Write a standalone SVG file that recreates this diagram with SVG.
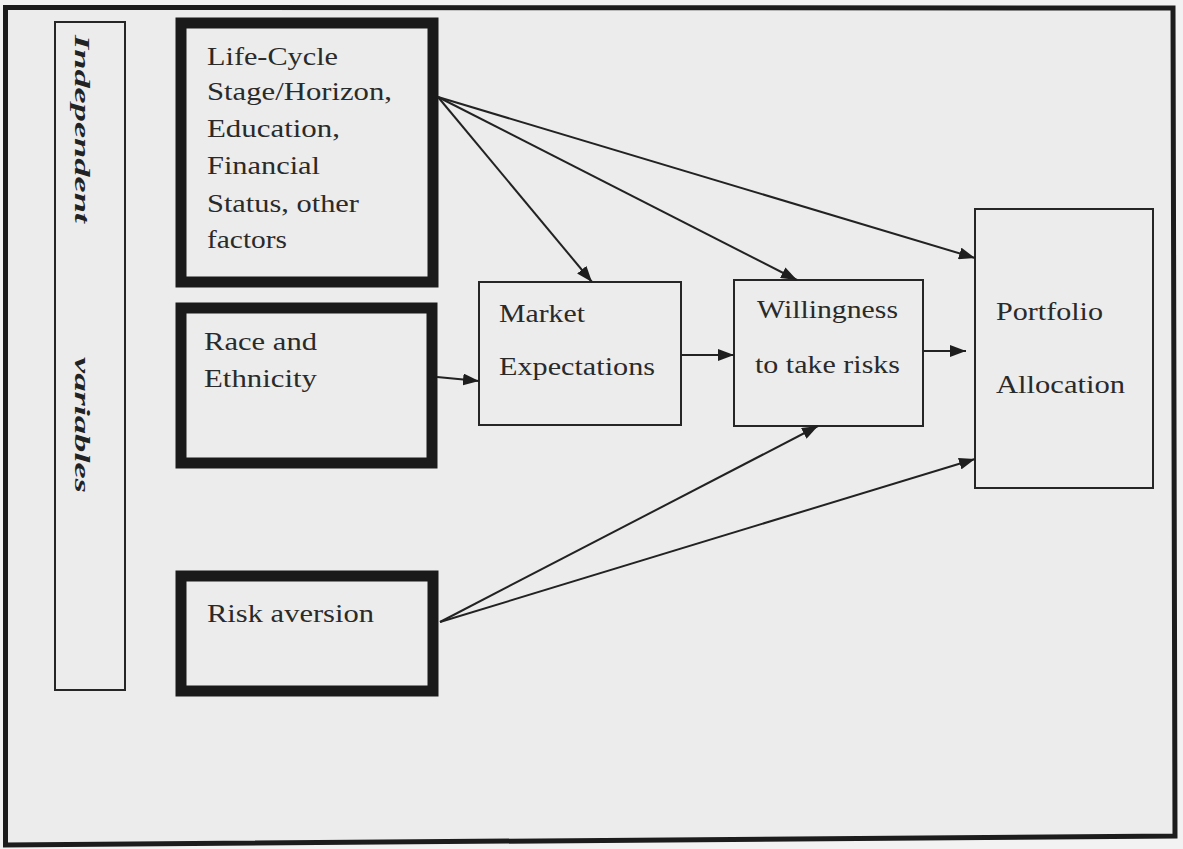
<svg xmlns="http://www.w3.org/2000/svg" width="1183" height="849" viewBox="0 0 1183 849">
<defs>
<style>
.bg{fill:#f2f2f2}
.frame{fill:#ececec;stroke:#1c1c1c;stroke-width:5}
.thick{fill:none;stroke:#1a1a1a;stroke-width:11}
.thin{fill:none;stroke:#262626;stroke-width:2}
.conn{stroke:#222;stroke-width:2;fill:none;marker-end:url(#arr)}
.t{font-family:"Liberation Serif","Times New Roman",serif;font-size:25px;fill:#2a2a2a}
.v{font-family:"Liberation Serif","Times New Roman",serif;font-size:22px;font-weight:bold;font-style:italic;fill:#222}
</style>
<marker id="arr" markerUnits="userSpaceOnUse" markerWidth="16" markerHeight="12" refX="16" refY="6" orient="auto">
<path d="M0,0 L16,6 L0,12 Z" fill="#1e1e1e"/>
</marker>
</defs>
<rect class="bg" x="0" y="0" width="1183" height="849"/>
<path class="frame" d="M5.5,7.5 L1173,8 L1175,836 L5.5,845 Z"/>

<g id="independent-variables">
<rect class="thin" x="55" y="22" width="70" height="668"/>
<text class="v" transform="translate(75,35) rotate(90)" textLength="188" lengthAdjust="spacingAndGlyphs">Independent</text>
<text class="v" transform="translate(75,357) rotate(90)" textLength="136" lengthAdjust="spacingAndGlyphs">variables</text>
</g>

<g id="life-cycle">
<rect class="thick" x="181" y="23" width="252" height="259"/>
<text class="t" x="207" y="65" textLength="131" lengthAdjust="spacingAndGlyphs">Life-Cycle</text>
<text class="t" x="207" y="100" textLength="185" lengthAdjust="spacingAndGlyphs">Stage/Horizon,</text>
<text class="t" x="207" y="137" textLength="133" lengthAdjust="spacingAndGlyphs">Education,</text>
<text class="t" x="207" y="174" textLength="113" lengthAdjust="spacingAndGlyphs">Financial</text>
<text class="t" x="207" y="212" textLength="152" lengthAdjust="spacingAndGlyphs">Status, other</text>
<text class="t" x="207" y="248" textLength="80" lengthAdjust="spacingAndGlyphs">factors</text>
</g>

<g id="race-ethnicity">
<rect class="thick" x="181" y="308" width="251" height="155"/>
<text class="t" x="204" y="350" textLength="113" lengthAdjust="spacingAndGlyphs">Race and</text>
<text class="t" x="204" y="387" textLength="113" lengthAdjust="spacingAndGlyphs">Ethnicity</text>
</g>

<g id="risk-aversion">
<rect class="thick" x="181" y="576" width="252" height="115"/>
<text class="t" x="207" y="622" textLength="167" lengthAdjust="spacingAndGlyphs">Risk aversion</text>
</g>

<g id="market-expectations">
<rect class="thin" x="479" y="282" width="202" height="143"/>
<text class="t" x="499" y="322" textLength="86" lengthAdjust="spacingAndGlyphs">Market</text>
<text class="t" x="499" y="375" textLength="156" lengthAdjust="spacingAndGlyphs">Expectations</text>
</g>

<g id="willingness">
<rect class="thin" x="734" y="280" width="189" height="146"/>
<text class="t" x="757" y="318" textLength="141" lengthAdjust="spacingAndGlyphs">Willingness</text>
<text class="t" x="755" y="373" textLength="145" lengthAdjust="spacingAndGlyphs">to take risks</text>
</g>

<g id="portfolio-allocation">
<rect class="thin" x="975" y="209" width="178" height="279"/>
<text class="t" x="996" y="320" textLength="107" lengthAdjust="spacingAndGlyphs">Portfolio</text>
<text class="t" x="996" y="393" textLength="129" lengthAdjust="spacingAndGlyphs">Allocation</text>
</g>

<g id="connectors">
<line class="conn" x1="438" y1="97" x2="592" y2="282"/>
<line class="conn" x1="438" y1="97" x2="797" y2="280"/>
<line class="conn" x1="438" y1="97" x2="975" y2="258"/>
<line class="conn" x1="437" y1="377" x2="479" y2="381"/>
<line class="conn" x1="681" y1="355" x2="734" y2="355"/>
<line class="conn" x1="923" y1="351" x2="966" y2="351"/>
<line class="conn" x1="440" y1="622" x2="818" y2="426"/>
<line class="conn" x1="440" y1="622" x2="975" y2="459"/>
</g>
</svg>
